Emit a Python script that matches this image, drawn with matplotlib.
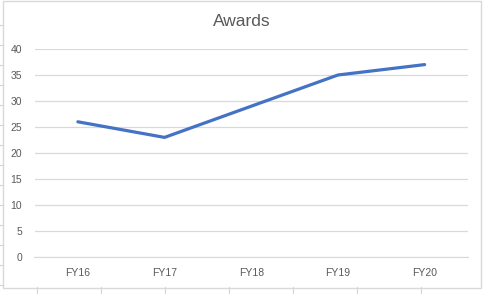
import matplotlib.pyplot as plt
from matplotlib.lines import Line2D
from matplotlib.patches import Rectangle

# data
years = ["FY16", "FY17", "FY18", "FY19", "FY20"]
awards = [26, 23, 29, 35, 37]
y_ticks = [0, 5, 10, 15, 20, 25, 30, 35, 40]

W, H = 483, 294
fig = plt.figure(figsize=(W / 100, H / 100), dpi=100)
plt.rcParams['font.family'] = ['Liberation Sans', 'DejaVu Sans']

# spreadsheet cell lines behind the chart
for x in [37, 101, 165, 229, 293, 357, 421]:
    fig.add_artist(Line2D([x / W, x / W], [0, 1 - 287 / H], color="#d4d4d4", lw=0.8))
for y in range(25, 290, 20):
    fig.add_artist(Line2D([0, 3 / W], [1 - y / H, 1 - y / H], color="#d4d4d4", lw=0.8))

# chart area border
fig.add_artist(Rectangle((3 / W, 1 - 288 / H), 478 / W, 287 / H, fill=False,
                         edgecolor="#d9d9d9", lw=1.0))

ax = fig.add_axes([34.5 / W, 1 - 257 / H, 433.5 / W, 208 / H])
xs = range(len(years))
ax.plot(xs, awards, color="#4472C4", lw=2.3, solid_capstyle="round")

ax.set_xlim(-0.5, len(years) - 0.5)
ax.set_ylim(0, 40)
ax.set_yticks(y_ticks)
ax.set_xticks(list(xs))
ax.set_xticklabels(years)
ax.grid(axis="y", color="#d9d9d9", lw=0.9)
ax.set_axisbelow(True)
for s in ["top", "right", "left"]:
    ax.spines[s].set_visible(False)
ax.spines["bottom"].set_color("#d9d9d9")
ax.tick_params(length=0, labelsize=7.5, colors="#595959")
ax.tick_params(axis="x", pad=8)
ax.tick_params(axis="y", pad=9)

fig.text(0.5, 1 - 22 / H, "Awards", ha="center", va="center", fontsize=12.5, color="#595959")

fig.savefig("out.png", dpi=100)
